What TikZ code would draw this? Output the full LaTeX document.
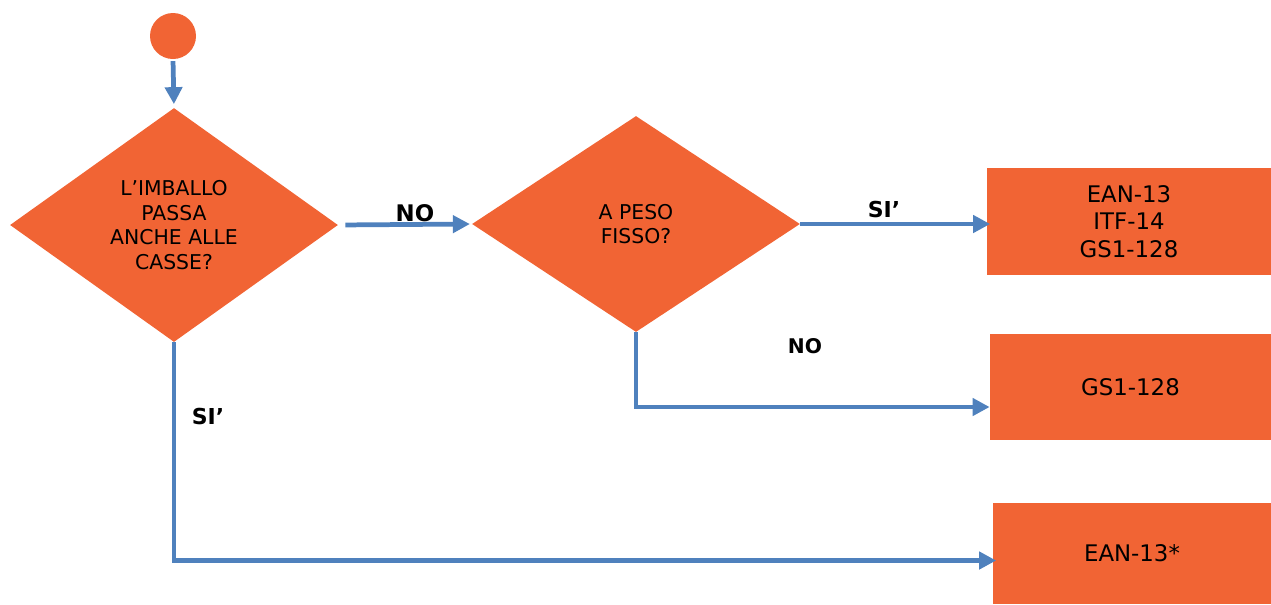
\documentclass[tikz,border=0pt]{standalone}
\usepackage{fontspec}
\setmainfont{DejaVu Sans}
\usepackage{xcolor}
\usetikzlibrary{arrows.meta,positioning,shapes.geometric,calc}
\definecolor{flowor}{HTML}{F16434}
\definecolor{flowblue}{HTML}{4F81BD}

\begin{document}
\begin{tikzpicture}[
  font=\fontsize{11.6}{14}\selectfont,
  dec/.style={diamond, fill=flowor, inner sep=0pt, minimum width=6.56cm,
    align=center},
  outbox/.style={rectangle, fill=flowor, inner sep=0pt, align=center,
    font=\fontsize{13}{15.6}\selectfont},
  arr/.style={-{Triangle[length=3.4mm, width=3.4mm]}, line width=2.7pt, flowblue},
  lbl/.style={font=\bfseries\fontsize{12.5}{14}\selectfont},
]
\useasboundingbox (0,0) rectangle (25.42,-12.08);
\node[circle, fill=flowor, minimum size=0.92cm, inner sep=0pt] (start) at (3.46,-0.72) {};
\node[dec, minimum height=4.68cm] (d1) at (3.48,-4.50) {L’IMBALLO\\PASSA\\ANCHE ALLE\\CASSE?};
\node[dec, minimum height=4.32cm] (d2) at (12.72,-4.48) {A PESO\\FISSO?};
\node[outbox, minimum width=5.68cm, minimum height=2.14cm] (b1) at (22.58,-4.43) {EAN-13\\ITF-14\\GS1-128};
\node[outbox, minimum width=5.62cm, minimum height=2.12cm] (b2) at (22.61,-7.74) {GS1-128};
\node[outbox, minimum width=5.56cm, minimum height=2.02cm] (b3) at (22.64,-11.07) {EAN-13*};
% connectors
\draw[arr, shorten <=1pt, shorten >=2pt] (start.south) -- (d1.north);
\draw[arr, shorten <=4pt, shorten >=1pt] (d1.east) -- (d2.west);
\draw[arr, shorten >=-2pt] (d2.east) -- (b1.west |- d2.east);
\draw[arr] (d2.south) |- ([yshift=-0.4cm]b2.west);
\draw[arr] (d1.south) |- ([xshift=2pt, yshift=-0.14cm]b3.west);
% labels
\node[lbl, font=\bfseries\fontsize{13}{14}\selectfont] (lno1) at (8.30,-4.26) {NO};
\node[lbl] (lsi1) at (17.68,-4.18) {SI’};
\node[lbl, font=\bfseries\fontsize{11.5}{14}\selectfont] (lno2) at (16.10,-6.92) {NO};
\node[lbl] (lsi2) at (4.16,-8.32) {SI’};
\end{tikzpicture}
\end{document}
